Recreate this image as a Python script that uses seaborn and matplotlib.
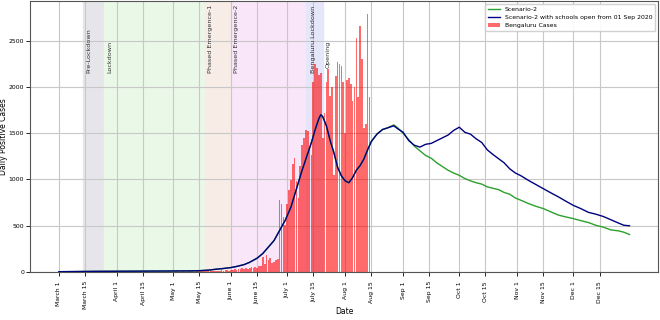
import matplotlib
matplotlib.use('Agg')
import matplotlib.pyplot as plt
import pandas as pd
import seaborn as sns

# Daily Bengaluru cases, one value per day starting 9 March 2020
case_start = '2020-03-09'
cases = [
    # March 9-31
    1, 0, 2, 1, 0, 2, 1, 3, 2, 1, 4, 3, 2, 5, 4, 3, 6, 5, 4, 7, 5, 3, 6,
    # April
    4, 5, 3, 7, 4, 2, 5, 6, 3, 4, 8, 5, 6, 3, 4, 7, 9, 5, 4, 6, 3, 5, 8, 6, 4, 3, 7, 5, 6, 4,
    # May
    5, 8, 6, 4, 7, 9, 6, 5, 8, 10, 7, 6, 9, 12, 8, 10, 7, 11, 9, 14, 12, 10, 15, 13, 11, 16,
    18, 14, 20, 17, 15,
    # June
    18, 25, 30, 22, 35, 28, 40, 33, 45, 30, 42, 50, 38, 55, 48, 70, 60, 165, 90, 183, 130,
    147, 93, 110, 130, 140, 783, 738, 596, 503,
    # July
    735, 889, 994, 1172, 1235, 981, 800, 1148, 1373, 1447, 1533, 1525, 1315, 1267, 2050,
    2250, 2208, 2125, 2156, 1452, 1714, 2050, 2190, 1900, 2000, 1050, 2120, 2270, 2250,
    2230, 2050,
    # August 1-14
    1500, 2080, 2100, 2030, 1850, 2000, 2530, 1890, 2660, 2300, 1560, 1600, 2790, 1890,
]

line_dates = [
    '2020-03-01', '2020-03-10', '2020-03-20', '2020-03-31', '2020-04-10', '2020-04-20',
    '2020-04-30', '2020-05-10', '2020-05-15', '2020-05-20', '2020-05-24', '2020-05-28',
    '2020-06-01', '2020-06-04', '2020-06-08', '2020-06-11', '2020-06-15', '2020-06-18',
    '2020-06-21', '2020-06-24', '2020-06-27', '2020-06-30',
    '2020-07-03', '2020-07-06', '2020-07-09', '2020-07-12', '2020-07-14', '2020-07-16',
    '2020-07-18', '2020-07-19', '2020-07-20', '2020-07-22', '2020-07-24', '2020-07-26',
    '2020-07-28', '2020-07-30',
    '2020-08-01', '2020-08-03', '2020-08-05', '2020-08-07', '2020-08-09', '2020-08-11',
    '2020-08-13', '2020-08-15', '2020-08-18', '2020-08-21', '2020-08-24', '2020-08-27',
    '2020-08-29', '2020-09-01',
    '2020-09-04', '2020-09-07', '2020-09-10', '2020-09-13', '2020-09-16', '2020-09-19',
    '2020-09-22', '2020-09-25', '2020-09-28',
    '2020-10-01', '2020-10-04', '2020-10-07', '2020-10-10', '2020-10-13', '2020-10-16',
    '2020-10-19', '2020-10-22', '2020-10-25', '2020-10-28', '2020-10-31',
    '2020-11-03', '2020-11-07', '2020-11-11', '2020-11-15', '2020-11-19', '2020-11-23',
    '2020-11-27',
    '2020-12-01', '2020-12-05', '2020-12-09', '2020-12-13', '2020-12-17', '2020-12-21',
    '2020-12-25', '2020-12-28', '2020-12-31',
]
scenario2 = [
    3, 5, 7, 8, 9, 10, 11, 12, 14, 20, 30, 38,
    48, 60, 80, 105, 150, 200, 270, 340, 450, 560,
    700, 900, 1100, 1280, 1400, 1540, 1660, 1700, 1680, 1580, 1420, 1290, 1130, 1040,
    985, 965, 1020, 1100, 1150, 1220, 1320, 1410, 1490, 1540, 1560, 1590, 1560, 1500,
    1430, 1360, 1310, 1260, 1230, 1180, 1140, 1100, 1070,
    1045, 1010, 985, 965, 950, 920, 905, 890, 860, 840, 800,
    775, 740, 710, 685, 650, 615, 595,
    577, 555, 535, 505, 485, 455, 445, 430, 405,
]
schools_open = [
    3, 5, 7, 8, 9, 10, 11, 12, 14, 20, 30, 38,
    48, 60, 80, 105, 150, 200, 270, 340, 450, 560,
    700, 900, 1100, 1280, 1400, 1540, 1660, 1700, 1680, 1580, 1420, 1290, 1130, 1040,
    985, 965, 1020, 1100, 1150, 1220, 1320, 1410, 1490, 1540, 1560, 1580, 1550, 1510,
    1420, 1370, 1350, 1380, 1390, 1420, 1450, 1480, 1530,
    1565, 1510, 1490, 1440, 1400, 1320, 1270, 1225, 1180, 1115, 1070,
    1040, 990, 945, 900, 855, 812, 765,
    720, 685, 645, 625, 600, 565, 530, 505, 500,
]

# lockdown phases
phase_names = ['Pre-Lockdown', 'Lockdown', 'Phased Emergence-1', 'Phased Emergence-2',
               'Bengaluru Lockdown', 'Opening']
phase_start = ['2020-03-14', '2020-03-25', '2020-05-18', '2020-06-01', '2020-07-11', '2020-07-20']
phase_end = ['2020-03-25', '2020-05-18', '2020-06-01', '2020-07-11', '2020-07-20', None]
phase_colors = ['#e6e6ea', '#eaf8e8', '#f7ede6', '#f9e6f9', '#e6e6fa', None]
label_dates = ['2020-03-17', '2020-03-28', '2020-05-21', '2020-06-04', '2020-07-15', '2020-07-23']
label_y = [2150, 2150, 2150, 2150, 2150, 2200]

tick_dates = ['2020-03-01', '2020-03-15', '2020-04-01', '2020-04-15', '2020-05-01', '2020-05-15',
              '2020-06-01', '2020-06-15', '2020-07-01', '2020-07-15', '2020-08-01', '2020-08-15',
              '2020-09-01', '2020-09-15', '2020-10-01', '2020-10-15', '2020-11-01', '2020-11-15',
              '2020-12-01', '2020-12-15']
tick_labels = ['March 1', 'March 15', 'April 1', 'April 15', 'May 1', 'May 15', 'June 1',
               'June 15', 'July 1', 'July 15', 'Aug 1', 'Aug 15', 'Sep 1', 'Sep 15', 'Oct 1',
               'Oct 15', 'Nov 1', 'Nov 15', 'Dec 1', 'Dec 15']

if __name__ == "__main__":
    case_dates = pd.date_range(case_start, periods=len(cases), freq='D')
    lines = pd.DataFrame({'date': pd.to_datetime(line_dates),
                          'scenario2': scenario2,
                          'schools': schools_open})

    fig, ax = plt.subplots(figsize=(6.6, 3.2), dpi=100)

    for s, e, c in zip(phase_start, phase_end, phase_colors):
        if e is None:
            continue
        ax.axvspan(pd.Timestamp(s), pd.Timestamp(e), color=c, zorder=0)

    ax.bar(case_dates, cases, width=0.9, color='red', alpha=0.58,
           label='Bengaluru Cases', zorder=2)
    sns.lineplot(data=lines, x='date', y='scenario2', color='#2ca02c', lw=1,
                 label='Scenario-2', ax=ax, zorder=3)
    sns.lineplot(data=lines, x='date', y='schools', color='navy', lw=1,
                 label='Scenario-2 with schools open from 01 Sep 2020', ax=ax, zorder=4)

    # phase names, written upright just after each phase starts
    for name, d, y in zip(phase_names, label_dates, label_y):
        ax.text(pd.Timestamp(d), y, name, rotation=90, ha='center', va='bottom',
                fontsize=4.6, color='#333333', zorder=5)

    ax.margins(x=0.05)
    ax.set_ylim(bottom=0)
    ax.set_xticks(pd.to_datetime(tick_dates))
    ax.set_xticklabels(tick_labels, rotation=90)
    ax.tick_params(labelsize=4.4, length=3, width=0.6)
    ax.tick_params(axis='y', pad=1.5)
    ax.grid(True, color='#c8c8c8', lw=0.8)
    for sp in ax.spines.values():
        sp.set_color('#555555')
        sp.set_linewidth(0.8)
    ax.set_xlabel('Date', fontsize=5.5)
    ax.set_ylabel('Daily Positive Cases', fontsize=5.5)
    ax.xaxis.set_label_coords(0.5, -0.128)
    ax.yaxis.set_label_coords(-0.036, 0.5)
    ax.legend(loc='upper right', fontsize=4.4, framealpha=0.9)

    plt.subplots_adjust(left=0.046, right=0.997, top=0.997, bottom=0.15)
    plt.savefig('out.png', dpi=100)
